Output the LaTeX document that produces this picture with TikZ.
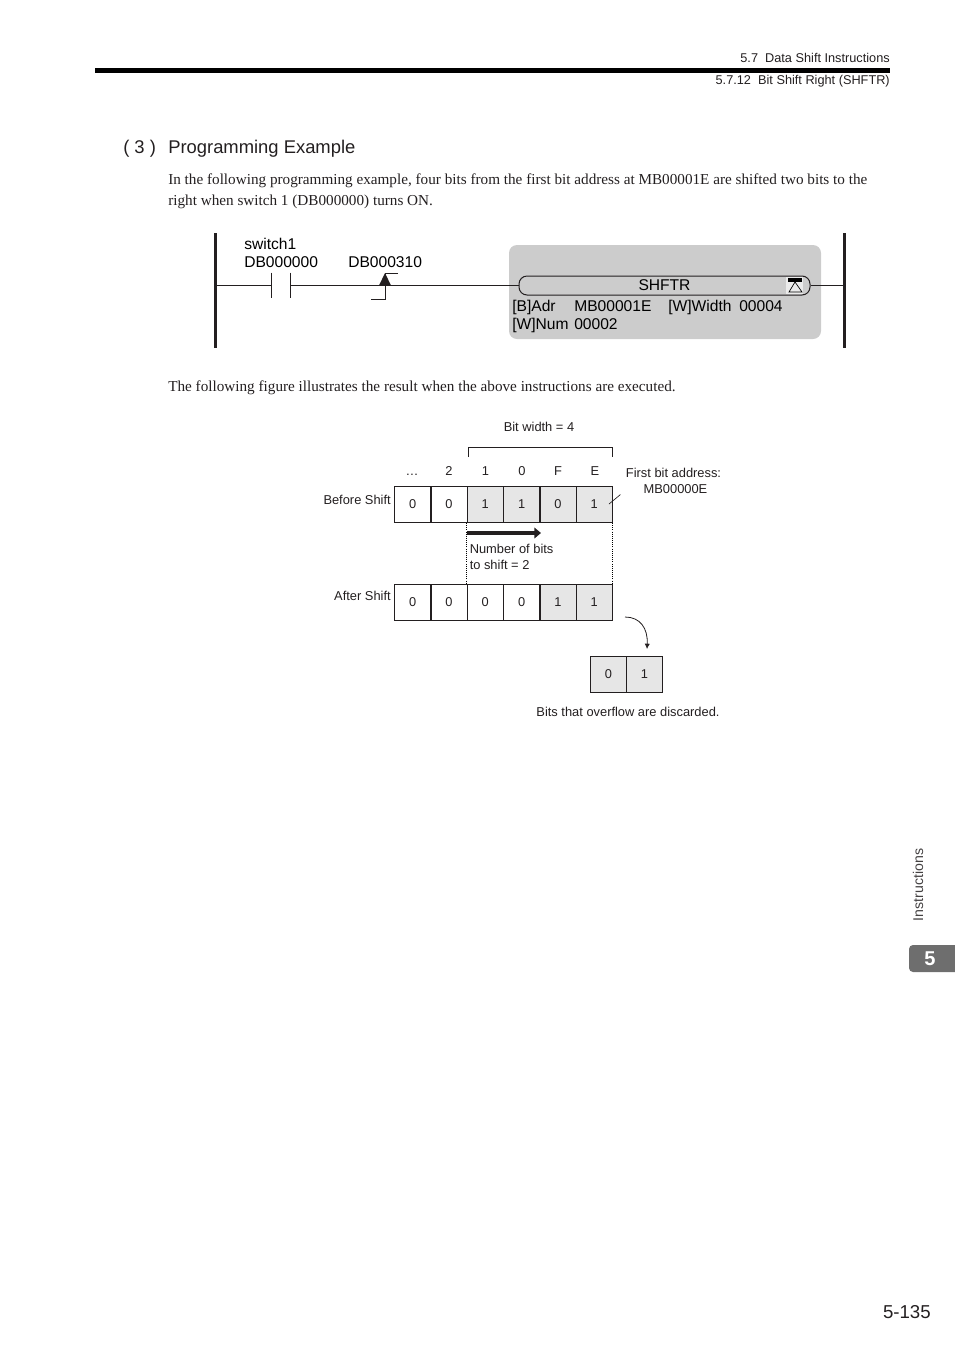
\documentclass[tikz,border=0pt]{standalone}
\usepackage{fontspec}
\setmainfont{Liberation Serif}
\setsansfont{Liberation Sans}
\usepackage{xcolor}
\usetikzlibrary{positioning,arrows.meta,calc}
\definecolor{CellGrey}{HTML}{E6E6E6}
\definecolor{PanelGrey}{HTML}{CCCCCC}
\definecolor{TabGrey}{HTML}{6E6E6E}
\definecolor{TextDark}{HTML}{231F20}
\begin{document}
\begin{tikzpicture}[x=0.75pt,y=-0.75pt,every node/.style={inner sep=0pt,text=TextDark},
    cellbox/.style={draw=TextDark,line width=0.75pt,minimum width=27pt,minimum height=27pt,font=\sffamily\fontsize{9.6}{11}\selectfont},
    hotcell/.style={cellbox,fill=CellGrey},
    figlabel/.style={font=\sffamily\fontsize{9.65}{12}\selectfont},
    ladlabel/.style={font=\sffamily\fontsize{11.7}{14}\selectfont,text=black,anchor=base west},
    bodytext/.style={font=\fontsize{11.4}{15.75}\selectfont,align=left,anchor=north west},
    headtext/.style={font=\sffamily\fontsize{9.55}{11}\selectfont,anchor=east},
    rail/.style={line width=2.25pt,draw=TextDark},
    wire/.style={line width=0.75pt,draw=TextDark}]
  \useasboundingbox (0,0) rectangle (954,1350);
  % page header
  \node[headtext] (head1) at (890,58) {5.7\ \ Data Shift Instructions};
  \node[headtext] (head2) at (890,81.5) {5.7.12\ \ Bit Shift Right (SHFTR)};
  \fill[black] (95,68) rectangle (890,73);
  \node[font=\sffamily\fontsize{13.8}{16}\selectfont,anchor=west] (secnum) at (123,149) {( 3 )};
  \node[font=\sffamily\fontsize{13.8}{16}\selectfont,anchor=west] (sectitle) at (168,149) {Programming Example};
  \node[bodytext] (para1) at (168,173.5) {In the following programming example, four bits from the first bit address at MB00001E are shifted two bits to the\\right when switch 1 (DB000000) turns ON.};
  \node[bodytext] (para2) at (168,381) {The following figure illustrates the result when the above instructions are executed.};
  % ladder rung
  \fill[PanelGrey,rounded corners=6pt] (509,245) rectangle (821,339);
  \coordinate (railLtop) at (215,233); \coordinate (railLbot) at (215,348);
  \coordinate (railRtop) at (844,233); \coordinate (railRbot) at (844,348);
  \draw[rail] (railLtop)--(railLbot); \draw[rail] (railRtop)--(railRbot);
  \coordinate (wireL) at (215,285.5); \coordinate (wireR) at (844,285.5);
  \node[minimum width=14.25pt,minimum height=18.75pt] (contact) at (280.8,285.5) {};
  \draw[wire] (contact.north west)--(contact.south west);
  \draw[wire] (contact.north east)--(contact.south east);
  \node[draw=TextDark,line width=0.75pt,rounded corners=6pt,minimum width=218.25pt,minimum height=14.25pt] (shftr) at (664.5,285.5) {};
  \node[ladlabel,anchor=base] (shftrtxt) at (664.5,290.7) {SHFTR};
  \draw[wire] (wireL)--(wireL-|contact.west);
  \draw[wire] (wireL-|contact.east)--(shftr.west);
  \draw[wire] (shftr.east)--(wireR);
  \coordinate (edgetop) at (385,273); \coordinate (edgebot) at (385,299.5);
  \fill[TextDark] (379,285.5) -- (edgetop) -- (391,285.5) -- cycle;
  \draw[wire] (398,273) -- (edgetop) -- (edgebot) -- (371,299.5);
  \node[ladlabel] (sw) at (244,249.5) {switch1};
  \node[ladlabel] (db1) at (244,267.7) {DB000000};
  \node[ladlabel] (db2) at (348,267.7) {DB000310};
  \node[ladlabel] (adr) at (512,311.5) {[B]Adr};
  \node[ladlabel] (adrv) at (574,311.5) {MB00001E};
  \node[ladlabel] (wid) at (668,311.5) {[W]Width};
  \node[ladlabel] (widv) at (739,311.5) {00004};
  \node[ladlabel] (num) at (512,329) {[W]Num};
  \node[ladlabel] (numv) at (574,329) {00002};
  % collapse button
  \fill[white!92!black] (786,277) rectangle (803,294);
  \fill[black] (788,278) rectangle (802,282);
  \draw[black,line width=0.5pt] (795,282) -- (789,292) -- (802,292) -- cycle;
  % bit figure
  \node[figlabel] (bw) at (539,427) {Bit width = 4};
  \coordinate (brL) at (468.5,457); \coordinate (brR) at (612.5,457);
  \draw[wire] (brL)--(468.5,447)--(612.5,447)--(brR);
  \node[figlabel,anchor=base] (h1) at (412,475.5) {\dots};
  \node[figlabel,anchor=base] (h2) at (449,475.5) {2};
  \node[figlabel,anchor=base] (h3) at (485.5,475.5) {1};
  \node[figlabel,anchor=base] (h4) at (522,475.5) {0};
  \node[figlabel,anchor=base] (h5) at (558,475.5) {F};
  \node[figlabel,anchor=base] (h6) at (595,475.5) {E};
  \node[figlabel,anchor=east] (before) at (391,500) {Before Shift};
  \node[figlabel,anchor=east] (after) at (391,596) {After Shift};
  \node[cellbox] (a1) at (412.7,504.5) {0};
  \node[cellbox] (a2) at (449,504.5) {0};
  \node[hotcell] (a3) at (485.3,504.5) {1};
  \node[hotcell] (a4) at (521.7,504.5) {1};
  \node[hotcell] (a5) at (558,504.5) {0};
  \node[hotcell] (a6) at (594.3,504.5) {1};
  \node[cellbox] (b1) at (412.7,602.5) {0};
  \node[cellbox] (b2) at (449,602.5) {0};
  \node[cellbox] (b3) at (485.3,602.5) {0};
  \node[cellbox] (b4) at (521.7,602.5) {0};
  \node[hotcell] (b5) at (558,602.5) {1};
  \node[hotcell] (b6) at (594.3,602.5) {1};
  \node[hotcell] (c1) at (608.5,674.5) {0};
  \node[hotcell] (c2) at (644.5,674.5) {1};
  \draw[densely dotted,line width=0.6pt] (a3.south west)--(b3.north west);
  \draw[densely dotted,line width=0.6pt] (a6.south east)--(b6.north east);
  \coordinate (shiftL) at (467,533); \coordinate (shiftR) at (541,533);
  \draw[line width=3.2pt,TextDark,-{Triangle[length=5pt,width=8pt]}] (shiftL)--(shiftR);
  \node[figlabel,align=left,anchor=north west] (numbits) at (469.5,543.5) {Number of bits\\to shift = 2};
  \node[figlabel,align=center] (first) at (673.5,481) {First bit address:\\\hspace*{3pt}MB00000E};
  \coordinate (markA) at (609,504); \coordinate (markB) at (620.5,494.5);
  \draw[wire,line width=0.5pt] (markA)--(markB);
  \coordinate (dropA) at (625,617); \coordinate (dropB) at (647,649);
  \draw[wire,line width=0.6pt,-{Latex[length=4pt,width=4pt]}] (dropA) .. controls (640,617) and (648,628) .. (dropB);
  \node[figlabel] (lost) at (628,712) {Bits that overflow are discarded.};
  % side tab and folio
  \node[font=\sffamily\fontsize{10.6}{12}\selectfont,rotate=90,text=TextDark!85] (tabtxt) at (918,885) {Instructions};
  \fill[TabGrey,rounded corners=3pt] (909,945) rectangle (960,972);
  \node[font=\sffamily\bfseries\fontsize{15}{18}\selectfont,text=white] (tabnum) at (930,958.5) {5};
  \node[font=\sffamily\fontsize{14}{18}\selectfont,anchor=east] (folio) at (931,1312) {5-135};
\end{tikzpicture}
\end{document}
